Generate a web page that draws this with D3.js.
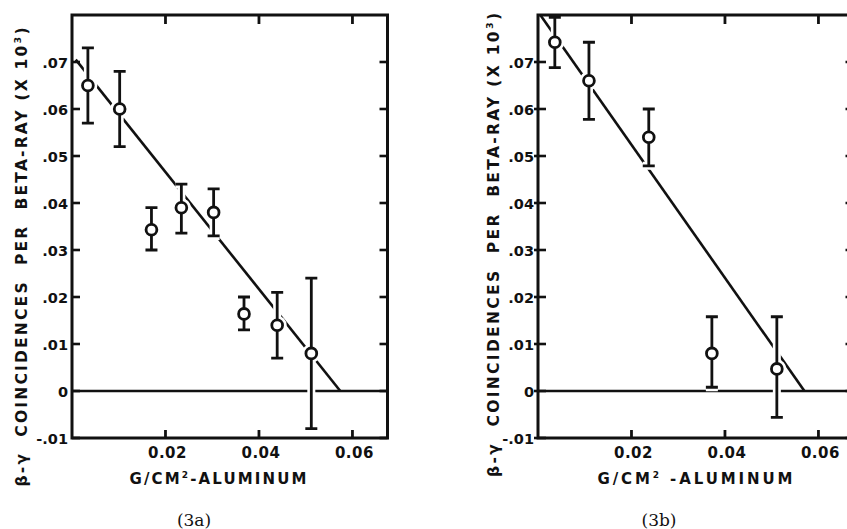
<!DOCTYPE html>
<html>
<head>
<meta charset="utf-8">
<script src="https://cdn.jsdelivr.net/npm/d3@7"></script>
<style>
  body { margin: 0; background: #fff; }
  svg text { font-family: "DejaVu Sans", sans-serif; font-weight: bold; fill: #111; }
  svg text.caption { font-family: "DejaVu Serif", serif; font-weight: normal; }
</style>
</head>
<body>
<svg id="chart" width="847" height="529"></svg>
<script>
'use strict';

// shared axes
const xTicks      = [0.02, 0.04, 0.06];
const xTickLabels = ['0.02', '0.04', '0.06'];
const yTicks      = [-0.01, 0, 0.01, 0.02, 0.03, 0.04, 0.05, 0.06, 0.07];
const yTickLabels = ['-.01', '0', '.01', '.02', '.03', '.04', '.05', '.06', '.07'];

// (3a)
const thicknessA = [0.0034, 0.0102, 0.0170, 0.0234, 0.0303, 0.0368, 0.0439, 0.0512];
const coincA     = [0.065, 0.060, 0.0343, 0.039, 0.038, 0.0164, 0.014, 0.008];
const upperA     = [0.073, 0.068, 0.039, 0.044, 0.043, 0.020, 0.021, 0.024];
const lowerA     = [0.057, 0.052, 0.030, 0.0336, 0.033, 0.013, 0.007, -0.008];
const fitA       = [[0.0008, 0.0705], [0.0574, 0]];

// (3b)
const thicknessB = [0.0036, 0.0109, 0.0237, 0.0372, 0.0511];
const coincB     = [0.0742, 0.066, 0.054, 0.008, 0.0047];
const upperB     = [0.0795, 0.0742, 0.060, 0.0158, 0.0158];
const lowerB     = [0.0688, 0.0578, 0.0479, 0.0008, -0.0056];
const fitB       = [[0.0005, 0.080], [0.0570, 0]];

const NB = '\u00a0';

class ErrorBarPanel
{
    constructor (svg, opt)
    {
        this.svg = svg;
        this.opt = opt;
        this.data = opt.xs.map((v, i) => ({ x: v, y: opt.ys[i], hi: opt.hi[i], lo: opt.lo[i] }));
    }

    barPath (d)
    {
        let x = this.x, y = this.y, c = 6;
        return 'M' + (x(d.x) - c) + ',' + y(d.hi) + 'H' + (x(d.x) + c) +
               'M' + x(d.x) + ',' + y(d.hi) + 'V' + y(d.lo) +
               'M' + (x(d.x) - c) + ',' + y(d.lo) + 'H' + (x(d.x) + c);
    }

    build ()
    {
        let o = this.opt;
        let g = this.svg.append('g');

        this.x = d3.scaleLinear().domain([0, 0.0675]).range([o.left, o.left + 315.5]);
        this.y = d3.scaleLinear().domain([-0.01, 0.08]).range([438, 15]);
        let x = this.x, y = this.y;
        let x0 = x(0), x1 = x(0.0675), y0 = y(0.08), y1 = y(-0.01);

        // fitted line and zero line
        g.append('path')
            .datum(o.fit)
            .attr('d', d3.line().x(d => x(d[0])).y(d => y(d[1])))
            .attr('fill', 'none')
            .attr('stroke', '#111')
            .attr('stroke-width', 2.6);

        g.append('line')
            .attr('x1', x0).attr('x2', x1)
            .attr('y1', y(0)).attr('y2', y(0))
            .attr('stroke', '#111')
            .attr('stroke-width', 2.6);

        // white halos that break the lines around each point
        g.selectAll('path.halo')
            .data(this.data)
            .enter()
            .append('path')
            .attr('class', 'halo')
            .attr('d', d => this.barPath(d))
            .attr('stroke', '#fff')
            .attr('stroke-width', 8);

        g.selectAll('circle.halo')
            .data(this.data)
            .enter()
            .append('circle')
            .attr('class', 'halo')
            .attr('cx', d => x(d.x))
            .attr('cy', d => y(d.y))
            .attr('r', 6.5)
            .attr('fill', '#fff')
            .attr('stroke', '#fff')
            .attr('stroke-width', 6);

        g.selectAll('path.bar')
            .data(this.data)
            .enter()
            .append('path')
            .attr('class', 'bar')
            .attr('d', d => this.barPath(d))
            .attr('stroke', '#111')
            .attr('stroke-width', 2.8);

        g.selectAll('circle.pt')
            .data(this.data)
            .enter()
            .append('circle')
            .attr('class', 'pt')
            .attr('cx', d => x(d.x))
            .attr('cy', d => y(d.y))
            .attr('r', 5.4)
            .attr('fill', '#fff')
            .attr('stroke', '#111')
            .attr('stroke-width', 2.8);

        // frame
        g.append('rect')
            .attr('x', x0).attr('y', y0)
            .attr('width', x1 - x0).attr('height', y1 - y0)
            .attr('fill', 'none')
            .attr('stroke', '#111')
            .attr('stroke-width', 3);

        // inward ticks
        g.selectAll('line.yl')
            .data(yTicks)
            .enter()
            .append('line')
            .attr('x1', x0 - o.tickOut).attr('x2', x0 + 8)
            .attr('y1', d => y(d)).attr('y2', d => y(d))
            .attr('stroke', '#111').attr('stroke-width', 2.6);

        g.selectAll('line.yr')
            .data(yTicks)
            .enter()
            .append('line')
            .attr('x1', x1 - 8).attr('x2', x1)
            .attr('y1', d => y(d)).attr('y2', d => y(d))
            .attr('stroke', '#111').attr('stroke-width', 2.6);

        g.selectAll('line.xt')
            .data(xTicks)
            .enter()
            .append('line')
            .attr('x1', d => x(d)).attr('x2', d => x(d))
            .attr('y1', y0).attr('y2', y0 + 9)
            .attr('stroke', '#111').attr('stroke-width', 2.8);

        g.selectAll('line.xb')
            .data(xTicks)
            .enter()
            .append('line')
            .attr('x1', d => x(d)).attr('x2', d => x(d))
            .attr('y1', y1).attr('y2', y1 - 8)
            .attr('stroke', '#111').attr('stroke-width', 2.8);

        // tick labels
        g.selectAll('text.yt')
            .data(yTicks)
            .enter()
            .append('text')
            .attr('x', x0 - 4)
            .attr('y', d => y(d))
            .attr('dy', '0.4em')
            .attr('text-anchor', 'end')
            .style('font-size', '14.5px')
            .text((d, i) => yTickLabels[i]);

        g.selectAll('text.xt')
            .data(xTicks)
            .enter()
            .append('text')
            .attr('x', d => x(d) + 2)
            .attr('y', 458)
            .attr('text-anchor', 'middle')
            .style('font-size', '15px')
            .style('letter-spacing', '0.5px')
            .text((d, i) => xTickLabels[i]);

        // x axis title
        let xt = g.append('text')
            .attr('x', o.left + o.xTitleDx)
            .attr('y', 484)
            .attr('text-anchor', 'middle')
            .attr('textLength', o.xTitleLen)
            .attr('lengthAdjust', 'spacing')
            .style('font-size', '15px');
        xt.append('tspan').text('G/CM');
        xt.append('tspan').attr('dy', -6).style('font-size', '9px').text('2');
        xt.append('tspan').attr('dy', 6).text(o.xTitleTail);

        // y axis title
        let yt = g.append('text')
            .attr('transform', 'translate(' + o.yTitleX + ',' + o.yTitleY + ') rotate(-90)')
            .attr('text-anchor', 'middle')
            .attr('textLength', o.yTitleLen)
            .attr('lengthAdjust', 'spacing')
            .style('font-size', '15.5px');
        yt.append('tspan').text('β-γ' + NB + NB + 'COINCIDENCES' + NB + NB + 'PER' + NB + NB + 'BETA-RAY (X 10');
        yt.append('tspan').attr('dy', -6).style('font-size', '9.5px').text('3');
        yt.append('tspan').attr('dy', 6).text(')');

        // caption
        g.append('text')
            .attr('class', 'caption')
            .attr('x', o.captionX)
            .attr('y', 526)
            .attr('text-anchor', 'middle')
            .style('font-size', '17px')
            .text(o.caption);

        return this;
    }
}

let svg = d3.select('#chart');

new ErrorBarPanel(svg, {
    left: 72, xs: thicknessA, ys: coincA, hi: upperA, lo: lowerA, fit: fitA,
    tickOut: 0, xTitleDx: 146, xTitleLen: 177, xTitleTail: '-ALUMINUM',
    yTitleX: 27, yTitleY: 257, yTitleLen: 459, caption: '(3a)', captionX: 194
}).build();

new ErrorBarPanel(svg, {
    left: 538, xs: thicknessB, ys: coincB, hi: upperB, lo: lowerB, fit: fitB,
    tickOut: 4, xTitleDx: 157, xTitleLen: 195, xTitleTail: NB + '-ALUMINUM',
    yTitleX: 499, yTitleY: 245, yTitleLen: 464, caption: '(3b)', captionX: 659
}).build();
</script>
</body>
</html>
